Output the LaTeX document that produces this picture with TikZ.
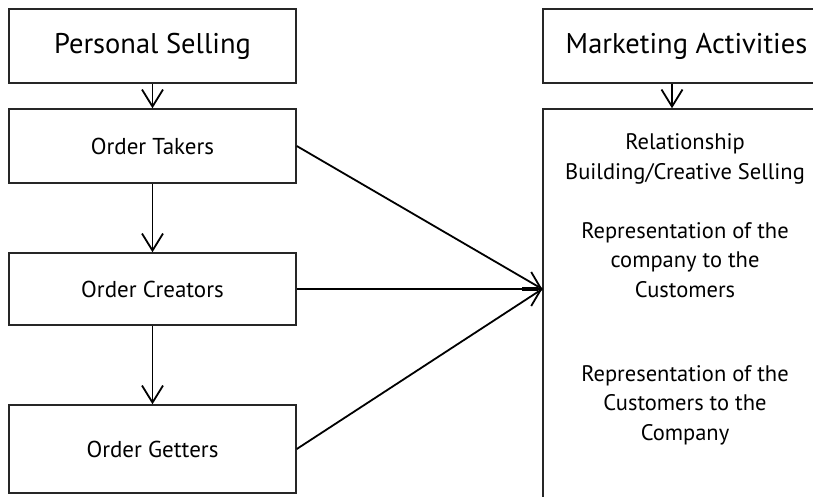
\documentclass[tikz,border=0pt]{standalone}
\usepackage{fontspec}
\setmainfont{PT Sans}
\usetikzlibrary{arrows.meta}
\begin{document}
\begin{tikzpicture}[x=1pt,y=-1pt,
  box/.style={draw=black!85, line width=1.5pt, minimum width=287pt, inner sep=0pt, font=\fontsize{23}{30}\selectfont},
  bigbox/.style={box, minimum height=74pt, font=\fontsize{28.5}{34}\selectfont},
  line/.style={line width=1.8pt},
  arr/.style={line, -{Straight Barb[length=17pt,width=21pt,line width=1.8pt]}},
  harr/.style={line, -{Straight Barb[length=10pt,width=34pt,line width=1.8pt]}},
  txt/.style={align=center, font=\fontsize{22.5}{29.5}\selectfont, inner sep=0pt}]
\clip (0,0) rectangle (813,496);
\node[bigbox] (ps) at (152.5,46) {Personal Selling};
\node[box, minimum height=74pt] (ot) at (152.5,146) {Order Takers};
\node[box, minimum height=72pt] (oc) at (152.5,289) {Order Creators};
\node[box, minimum height=88pt] (og) at (152.5,449) {Order Getters};
\node[bigbox] (ma) at (686.5,46) {Marketing Activities};
\node[box, minimum height=421pt] (rb) at (686.5,319.5) {};
\node[txt] (t1) at (685,159) {Relationship\\Building/Creative Selling};
\node[txt] (t2) at (685,260) {Representation of the\\company to the\\Customers};
\node[txt] (t3) at (685,405) {Representation of the\\Customers to the\\Company};
\draw[arr] (ps.south) -- (ot.north);
\draw[arr] (ot.south) -- (oc.north);
\draw[arr] (oc.south) -- (og.north);
\draw[arr] ([xshift=-14.5pt]ma.south) -- ([xshift=-14.5pt]rb.north);
\coordinate (hit) at (oc.east -| rb.west);
\draw[line] (ot.east) -- (hit);
\draw[line] (og.east) -- (hit);
\draw[harr] (oc.east) -- (hit);
\draw[line width=3.5pt] ([xshift=-20pt]hit) -- ([xshift=-4pt]hit);
\end{tikzpicture}
\end{document}
